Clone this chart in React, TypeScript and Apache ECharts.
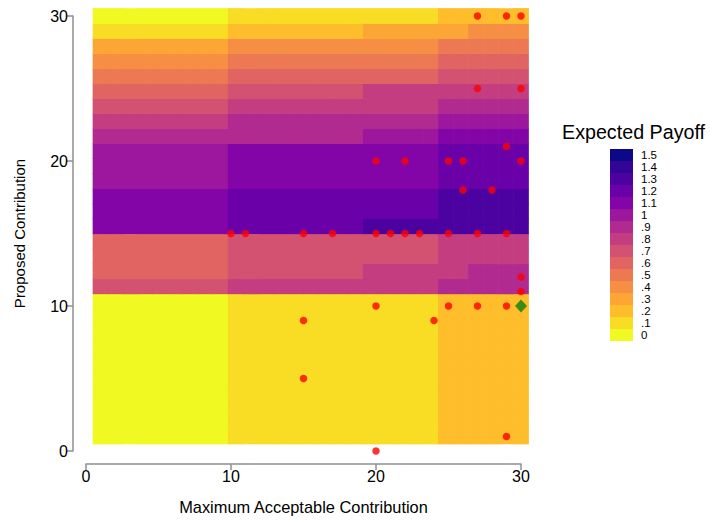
import React, { useEffect, useRef } from 'react';
import * as echarts from 'echarts';

const FONT = '"Liberation Sans", Helvetica, Arial, sans-serif';

// Heat-map grid: 29 x 29 cells whose centres run from 1 to 30 on both axes
const GRID_COUNT = 29;
const GRID_MIN = 1;
const GRID_MAX = 30;

// Column bands (number of grid cells per band, left to right)
const COLUMN_BANDS = [9, 9, 5, 2, 4];

// Expected payoff per column band, rows listed from bottom (row 0) to top (row 28)
const ROW_PAYOFFS: number[][] = [
  [0, 0.1, 0.1, 0.2, 0.2], // 0
  [0, 0.1, 0.1, 0.2, 0.2], // 1
  [0, 0.1, 0.1, 0.2, 0.2], // 2
  [0, 0.1, 0.1, 0.2, 0.2], // 3
  [0, 0.1, 0.1, 0.2, 0.2], // 4
  [0, 0.1, 0.1, 0.2, 0.2], // 5
  [0, 0.1, 0.1, 0.2, 0.2], // 6
  [0, 0.1, 0.1, 0.2, 0.2], // 7
  [0, 0.1, 0.1, 0.2, 0.2], // 8
  [0, 0.1, 0.1, 0.2, 0.2], // 9
  [0.7, 0.8, 0.8, 0.9, 0.9], // 10
  [0.6, 0.7, 0.8, 0.8, 0.9], // 11
  [0.6, 0.7, 0.7, 0.8, 0.8], // 12
  [0.6, 0.7, 0.7, 0.8, 0.8], // 13
  [1.1, 1.2, 1.3, 1.3, 1.3], // 14
  [1.1, 1.2, 1.2, 1.3, 1.3], // 15
  [1.1, 1.2, 1.2, 1.3, 1.3], // 16
  [1, 1.1, 1.1, 1.2, 1.2], // 17
  [1, 1.1, 1.1, 1.2, 1.2], // 18
  [1, 1.1, 1.1, 1.2, 1.2], // 19
  [0.9, 0.9, 1, 1.1, 1.1], // 20
  [0.8, 0.9, 0.9, 1, 1], // 21
  [0.7, 0.8, 0.8, 0.9, 0.9], // 22
  [0.6, 0.7, 0.8, 0.8, 0.8], // 23
  [0.5, 0.6, 0.6, 0.7, 0.7], // 24
  [0.4, 0.5, 0.5, 0.6, 0.6], // 25
  [0.3, 0.4, 0.4, 0.5, 0.5], // 26
  [0.1, 0.2, 0.3, 0.3, 0.4], // 27
  [0, 0.1, 0.1, 0.2, 0.2], // 28
];

// Legend levels
const LEVELS = [0, 0.1, 0.2, 0.3, 0.4, 0.5, 0.6, 0.7, 0.8, 0.9, 1, 1.1, 1.2, 1.3, 1.4, 1.5];
const LEVEL_LABELS = ['0', '.1', '.2', '.3', '.4', '.5', '.6', '.7', '.8', '.9', '1', '1.1', '1.2', '1.3', '1.4', '1.5'];
const LEVEL_COLORS = [
  '#f0f921', '#f9dc24', '#febd2a', '#fca636', '#f68f44', '#ed7953', '#e16462', '#d35171',
  '#c33d80', '#b12a90', '#9c179e', '#8405a7', '#6a00a8', '#4c02a1', '#330597', '#0d0887',
];

// Observed proposals (red points)
const POINTS_X = [27, 29, 30, 27, 30, 29, 20, 22, 25, 26, 30, 26, 28, 10, 11, 15, 17, 20, 21, 22, 23, 25, 27, 29, 30, 30, 20, 25, 27, 29, 15, 24, 15, 29, 20];
const POINTS_Y = [30, 30, 30, 25, 25, 21, 20, 20, 20, 20, 20, 18, 18, 15, 15, 15, 15, 15, 15, 15, 15, 15, 15, 15, 12, 11, 10, 10, 10, 10, 9, 9, 5, 1, 0];

// Optimum (green diamond)
const OPTIMUM_X = [30];
const OPTIMUM_Y = [10];

const X_NAME = 'Maximum Acceptable Contribution';
const Y_NAME = 'Proposed Contribution';
const LEGEND_TITLE = 'Expected Payoff';

export default function App() {
  const ref = useRef<HTMLDivElement>(null);

  useEffect(() => {
    if (!ref.current) return;
    const chart = echarts.init(ref.current, null, { renderer: 'svg' });

    const step = (GRID_MAX - GRID_MIN) / (GRID_COUNT - 1);
    const half = step / 2;
    const centres = Array.from({ length: GRID_COUNT }, (_, k) => GRID_MIN + k * step);

    const cells: number[][] = [];
    ROW_PAYOFFS.forEach((bands, r) => {
      let c = 0;
      bands.forEach((v, b) => {
        for (let i = 0; i < COLUMN_BANDS[b]; i++) {
          cells.push([centres[c], centres[r], v]);
          c++;
        }
      });
    });

    const axisGray = '#8f8f8f';
    const bleed = 0.35;

    chart.setOption({
      animation: false,
      textStyle: { fontFamily: FONT },
      title: {
        text: LEGEND_TITLE,
        left: 562,
        top: 122,
        padding: 0,
        textStyle: { fontSize: 19.7, fontWeight: 'normal', color: '#000', fontFamily: FONT },
      },
      grid: { left: 86, right: 189, top: 16, bottom: 69 },
      xAxis: {
        type: 'value',
        min: 0,
        max: 30,
        interval: 10,
        offset: 13,
        axisLine: { show: true, onZero: false, lineStyle: { color: axisGray, width: 1.5 } },
        axisTick: { show: true, length: 6, lineStyle: { color: axisGray, width: 1.5 } },
        axisLabel: { fontSize: 16, color: '#000', margin: 4, fontFamily: FONT },
        splitLine: { show: false },
        name: X_NAME,
        nameLocation: 'middle',
        nameGap: 35,
        nameTextStyle: { fontSize: 16.4, color: '#000', fontFamily: FONT },
      },
      yAxis: {
        type: 'value',
        min: 0,
        max: 30,
        interval: 10,
        offset: 13,
        axisLine: { show: true, onZero: false, lineStyle: { color: axisGray, width: 1.5 } },
        axisTick: { show: true, length: 6, lineStyle: { color: axisGray, width: 1.5 } },
        axisLabel: { fontSize: 16, color: '#000', margin: 5, fontFamily: FONT },
        splitLine: { show: false },
        name: Y_NAME,
        nameLocation: 'middle',
        nameGap: 46,
        nameTextStyle: { fontSize: 15, color: '#000', fontFamily: FONT },
      },
      visualMap: {
        type: 'piecewise',
        seriesIndex: 0,
        dimension: 2,
        orient: 'vertical',
        align: 'left',
        left: 595,
        top: 134,
        itemWidth: 23,
        itemHeight: 12,
        itemGap: 0,
        itemSymbol: 'rect',
        textGap: 8,
        selectedMode: false,
        hoverLink: false,
        textStyle: { fontSize: 11.5, lineHeight: 12, color: '#000', fontFamily: FONT },
        pieces: LEVELS.map((v, i) => ({
          gte: v - 0.05,
          lt: v + 0.05,
          color: LEVEL_COLORS[i],
          label: LEVEL_LABELS[i],
        })),
      },
      series: [
        {
          type: 'custom',
          silent: true,
          clip: false,
          encode: { x: 0, y: 1 },
          data: cells,
          renderItem: (_params: any, api: any) => {
            const x = api.value(0);
            const y = api.value(1);
            const p0 = api.coord([x - half, y + half]);
            const p1 = api.coord([x + half, y - half]);
            return {
              type: 'rect',
              shape: {
                x: p0[0] - bleed,
                y: p0[1] - bleed,
                width: p1[0] - p0[0] + 2 * bleed,
                height: p1[1] - p0[1] + 2 * bleed,
              },
              style: { fill: api.visual('color') },
            };
          },
        },
        {
          type: 'scatter',
          silent: true,
          clip: false,
          symbol: 'circle',
          symbolSize: 7.5,
          itemStyle: { color: '#ff0000' },
          data: POINTS_X.map((x, i) => [x, POINTS_Y[i]]),
          z: 5,
        },
        {
          type: 'scatter',
          silent: true,
          clip: false,
          symbol: 'diamond',
          symbolSize: [12, 13],
          itemStyle: { color: '#0a7f0a' },
          data: OPTIMUM_X.map((x, i) => [x, OPTIMUM_Y[i]]),
          z: 6,
        },
      ],
    });

    return () => chart.dispose();
  }, []);

  return (
    <div
      ref={ref}
      style={{ position: 'absolute', left: 0, top: 0, width: 710, height: 520, background: '#fff' }}
    />
  );
}
